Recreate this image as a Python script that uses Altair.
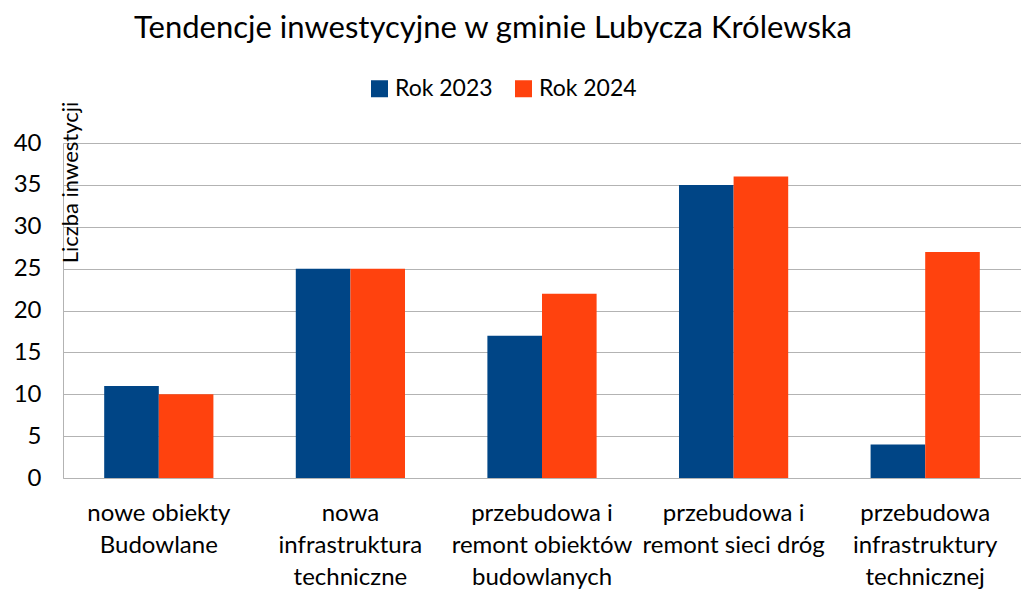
import altair as alt
import pandas as pd

categories = [
    "nowe obiekty|Budowlane",
    "nowa|infrastruktura|techniczne",
    "przebudowa i|remont obiektów|budowlanych",
    "przebudowa i|remont sieci dróg",
    "przebudowa|infrastruktury|technicznej",
]
years = ["Rok 2023", "Rok 2024"]
values_2023 = [11, 25, 17, 35, 4]
values_2024 = [10, 25, 22, 36, 27]
colors = ["#004586", "#ff420e"]

rows = []
for c, v in zip(categories, values_2023):
    rows.append({"kategoria": c, "rok": years[0], "liczba": v})
for c, v in zip(categories, values_2024):
    rows.append({"kategoria": c, "rok": years[1], "liczba": v})
df = pd.DataFrame(rows)

FONT = "Lato"

chart = alt.Chart(df).mark_bar().encode(
    x=alt.X("kategoria:N", sort=categories,
            scale=alt.Scale(paddingInner=0.43, paddingOuter=0.215),
            axis=alt.Axis(title=None, labelAngle=0, ticks=False, grid=False,
                          labelExpr="split(datum.label, '|')",
                          labelFontSize=24, labelLineHeight=32, labelPadding=23,
                          labelColor="#000000", domainColor="#b3b3b3",
                          labelFont=FONT, labelLimit=300)),
    xOffset=alt.XOffset("rok:N", sort=years),
    y=alt.Y("liczba:Q", scale=alt.Scale(domain=[0, 40], nice=False),
            axis=alt.Axis(values=[0, 5, 10, 15, 20, 25, 30, 35, 40],
                          title="Liczba inwestycji", titleAngle=-90,
                          titleX=14, titleY=39, titleAlign="center",
                          titleBaseline="alphabetic", titleFontSize=22,
                          titleFontWeight="normal", titleFont=FONT,
                          titleColor="#000000",
                          ticks=False, labelPadding=22, labelFontSize=24,
                          labelFont=FONT, labelColor="#000000",
                          gridColor="#b3b3b3", domainColor="#b3b3b3")),
    color=alt.Color("rok:N", sort=years,
                    scale=alt.Scale(domain=years, range=colors),
                    legend=alt.Legend(title=None, orient="none", direction="horizontal",
                                      legendX=305, legendY=-66, symbolType="square",
                                      symbolSize=289, symbolStrokeWidth=0,
                                      labelFontSize=23, labelFont=FONT,
                                      labelColor="#000000", columnPadding=19,
                                      labelOffset=4)),
).properties(
    width=958,
    height=335,
    padding={"left": 55, "top": 135, "right": 0, "bottom": 111},
    autosize=alt.AutoSizeParams(type="none"),
    title=alt.TitleParams("Tendencje inwestycyjne w gminie Lubycza Królewska",
                          fontSize=31, font=FONT, fontWeight="normal",
                          color="#000000", anchor="middle", dx=-49, dy=-28),
).configure_view(stroke=None)

chart.save("out.html", embed_options={"renderer": "svg", "actions": False})
